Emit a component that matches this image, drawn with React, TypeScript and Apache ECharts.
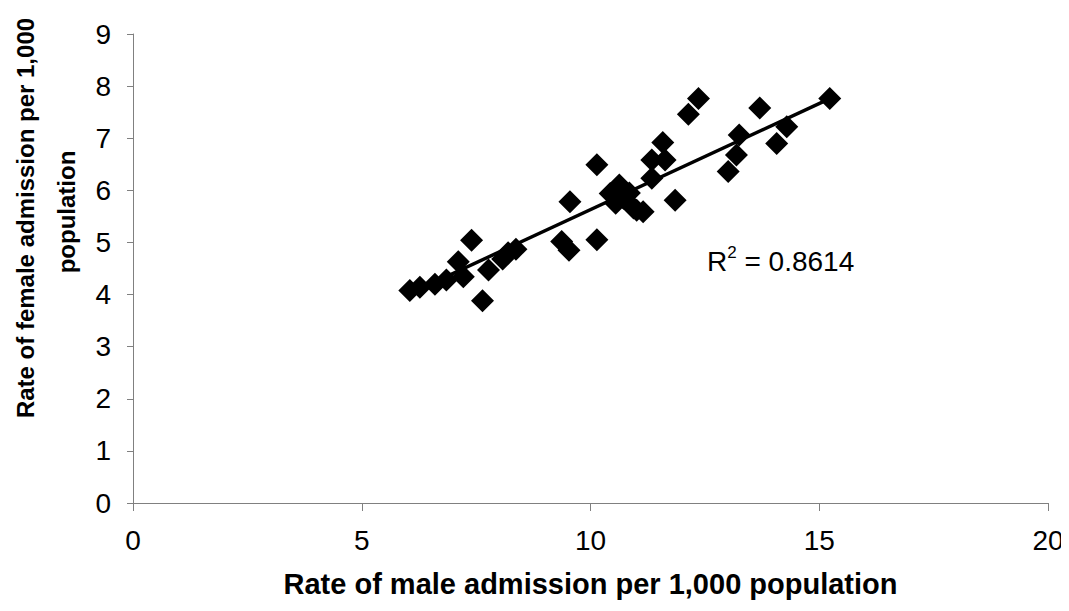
import React, { useEffect, useRef } from "react";
import * as echarts from "echarts";

const maleRate = [
  6.05, 6.27, 6.6, 6.85, 7.11, 7.22, 7.4, 7.64, 7.77, 8.08, 8.2, 8.37,
  9.37, 9.53, 9.55, 10.14, 10.14, 10.43, 10.63, 10.72, 10.55, 10.94, 11.15,
  10.85, 11.01, 11.34, 11.34, 11.63, 11.58, 11.85, 12.14, 12.36, 13.01, 13.19,
  13.25, 13.7, 14.07, 14.29, 15.23,
];
const femaleRate = [
  4.08, 4.14, 4.2, 4.28, 4.63, 4.34, 5.04, 3.88, 4.47, 4.68, 4.8, 4.87,
  5.02, 4.85, 5.78, 5.05, 6.49, 5.94, 6.1, 5.85, 5.75, 5.66, 5.59,
  5.95, 5.62, 6.23, 6.58, 6.58, 6.92, 5.81, 7.46, 7.76, 6.36, 6.68,
  7.06, 7.58, 6.9, 7.22, 7.76,
];
const trendX = [6.05, 15.23];
const trendY = [4.02, 7.76];
const xTicks = [0, 5, 10, 15, 20];
const yTicks = [0, 1, 2, 3, 4, 5, 6, 7, 8, 9];
const xTitle = "Rate of male admission per 1,000 population";
const yTitleLines = ["Rate of female admission per 1,000", "population"];
const rSquared = "0.8614";

const FONT = "Liberation Sans, Arial, sans-serif";

export default function App() {
  const ref = useRef<HTMLDivElement>(null);
  useEffect(() => {
    if (!ref.current) return;
    const chart = echarts.init(ref.current, undefined, { renderer: "svg" });
    const axisLine = { show: true, lineStyle: { color: "#808080", width: 1 } };
    chart.setOption({
      animation: false,
      backgroundColor: "#ffffff",
      textStyle: { fontFamily: FONT },
      grid: { left: 133, right: 21, top: 34, bottom: 108, containLabel: false, outerBoundsMode: "none" },
      xAxis: {
        type: "value",
        min: xTicks[0],
        max: xTicks[xTicks.length - 1],
        interval: 5,
        axisLine: { ...axisLine, onZero: false },
        axisTick: { show: true, inside: false, length: 8, lineStyle: { color: "#808080" } },
        splitLine: { show: false },
        axisLabel: { color: "#000", fontSize: 28, fontFamily: FONT, margin: 23 },
        name: xTitle,
        nameLocation: "middle",
        nameGap: 66,
        nameTextStyle: { color: "#000", fontSize: 29, fontWeight: "bold", fontFamily: FONT },
      },
      yAxis: {
        type: "value",
        min: yTicks[0],
        max: yTicks[yTicks.length - 1],
        interval: 1,
        axisLine: { ...axisLine, onZero: false },
        axisTick: { show: true, inside: false, length: 6, lineStyle: { color: "#808080" } },
        splitLine: { show: false },
        axisLabel: { color: "#000", fontSize: 28, fontFamily: FONT, margin: 22 },
      },
      series: [
        {
          type: "line",
          data: trendX.map((x, i) => [x, trendY[i]]),
          symbol: "none",
          lineStyle: { color: "#000", width: 3.5 },
          z: 3,
        },
        {
          type: "scatter",
          data: maleRate.map((x, i) => [x, femaleRate[i]]),
          symbol: "diamond",
          symbolSize: [23, 23],
          itemStyle: { color: "#000", opacity: 1 },
          z: 2,
        },
      ],
      graphic: [
        {
          type: "text",
          x: 25,
          y: 218,
          rotation: Math.PI / 2,
          style: {
            text: yTitleLines[0],
            fontSize: 24,
            fontWeight: "bold",
            fontFamily: FONT,
            fill: "#000",
            align: "center",
            verticalAlign: "middle",
          },
        },
        {
          type: "text",
          x: 66,
          y: 212,
          rotation: Math.PI / 2,
          style: {
            text: yTitleLines[1],
            fontSize: 24,
            fontWeight: "bold",
            fontFamily: FONT,
            fill: "#000",
            align: "center",
            verticalAlign: "middle",
          },
        },
        {
          type: "text",
          left: 707,
          top: 244,
          style: {
            text: "{r|R}{s|2}{r| = " + rSquared + "}",
            rich: {
              r: { fontSize: 28, fontFamily: FONT, fill: "#000", verticalAlign: "bottom" },
              s: { fontSize: 17, fontFamily: FONT, fill: "#000", verticalAlign: "top", padding: [0, 0, 14, 0] },
            },
          },
        },
      ],
    });
    return () => chart.dispose();
  }, []);
  return <div ref={ref} style={{ width: 1069, height: 611, margin: -8 }} />;
}
